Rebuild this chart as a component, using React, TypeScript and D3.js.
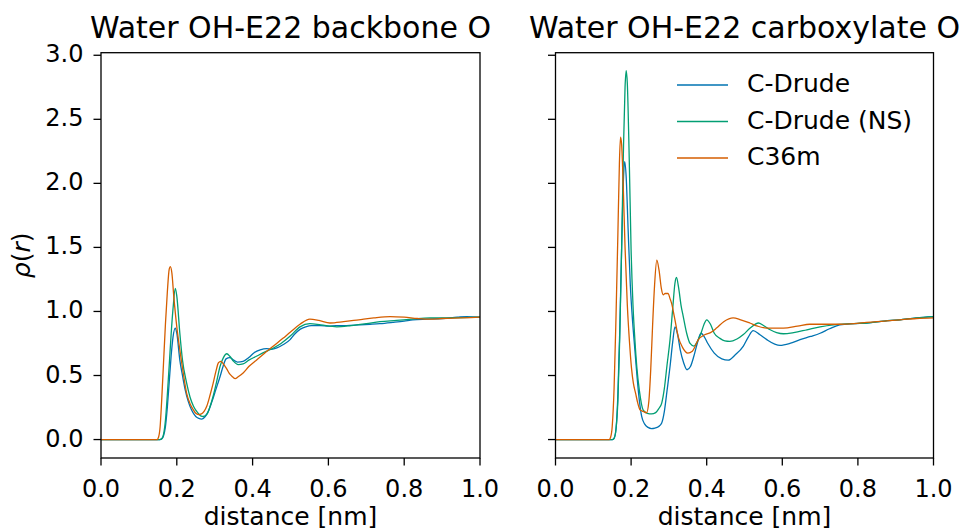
import React from "react";
import * as d3 from "d3";

type Pt = [number, number];

const seriesNames = ["C-Drude", "C-Drude (NS)", "C36m"];
const seriesColors = ["#0173b2", "#029e73", "#d55e00"];
const panelTitles = ["Water OH-E22 backbone O", "Water OH-E22 carboxylate O"];
const xTicks = [0, 0.2, 0.4, 0.6, 0.8, 1.0];
const yTicks = [0, 0.5, 1.0, 1.5, 2.0, 2.5, 3.0];

const backboneCDrude: Pt[] = [[0,0],[0.155,0],[0.16,0.005],[0.165,0.03],[0.17,0.1],[0.175,0.25],[0.18,0.45],[0.185,0.65],[0.19,0.8],[0.196,0.87],[0.2,0.83],[0.208,0.62],[0.215,0.5],[0.222,0.39],[0.23,0.3],[0.239,0.23],[0.25,0.18],[0.258,0.165],[0.266,0.16],[0.275,0.18],[0.283,0.22],[0.292,0.29],[0.303,0.39],[0.314,0.49],[0.322,0.57],[0.33,0.63],[0.34,0.64],[0.35,0.62],[0.36,0.605],[0.375,0.61],[0.39,0.64],[0.405,0.68],[0.42,0.70],[0.437,0.71],[0.45,0.705],[0.464,0.715],[0.48,0.74],[0.499,0.78],[0.51,0.82],[0.525,0.86],[0.54,0.88],[0.555,0.89],[0.58,0.89],[0.6,0.885],[0.62,0.89],[0.648,0.89],[0.68,0.895],[0.71,0.9],[0.736,0.905],[0.77,0.915],[0.8,0.925],[0.823,0.935],[0.86,0.94],[0.9,0.945],[0.94,0.955],[0.965,0.96],[1.0,0.955]];
const backboneCDrudeNS: Pt[] = [[0,0],[0.155,0],[0.16,0.005],[0.165,0.04],[0.17,0.15],[0.175,0.35],[0.18,0.58],[0.185,0.82],[0.19,1.02],[0.196,1.18],[0.2,1.12],[0.208,0.83],[0.215,0.62],[0.226,0.44],[0.235,0.33],[0.244,0.26],[0.255,0.21],[0.263,0.185],[0.27,0.18],[0.28,0.2],[0.288,0.26],[0.296,0.34],[0.305,0.45],[0.314,0.57],[0.323,0.64],[0.332,0.67],[0.34,0.65],[0.35,0.61],[0.362,0.585],[0.375,0.59],[0.39,0.62],[0.41,0.65],[0.43,0.68],[0.455,0.715],[0.475,0.75],[0.5,0.81],[0.525,0.88],[0.551,0.905],[0.58,0.895],[0.622,0.88],[0.66,0.89],[0.7,0.905],[0.736,0.92],[0.78,0.93],[0.82,0.94],[0.868,0.95],[0.92,0.95],[1.0,0.955]];
const backboneC36m: Pt[] = [[0,0],[0.148,0],[0.152,0.02],[0.156,0.1],[0.16,0.3],[0.165,0.6],[0.17,0.9],[0.175,1.15],[0.18,1.33],[0.183,1.35],[0.187,1.3],[0.192,1.12],[0.2,0.88],[0.208,0.70],[0.217,0.52],[0.226,0.36],[0.235,0.28],[0.244,0.23],[0.25,0.205],[0.257,0.195],[0.265,0.2],[0.272,0.22],[0.279,0.26],[0.288,0.35],[0.296,0.44],[0.303,0.53],[0.31,0.6],[0.316,0.61],[0.323,0.59],[0.332,0.55],[0.34,0.51],[0.347,0.49],[0.354,0.475],[0.362,0.49],[0.375,0.52],[0.39,0.57],[0.41,0.62],[0.43,0.67],[0.455,0.73],[0.48,0.79],[0.5,0.84],[0.525,0.90],[0.551,0.94],[0.575,0.93],[0.604,0.91],[0.64,0.92],[0.68,0.935],[0.72,0.95],[0.763,0.96],[0.8,0.955],[0.835,0.945],[0.868,0.94],[0.9,0.945],[0.95,0.95],[1.0,0.955]];

const carboxCDrude: Pt[] = [[0,0],[0.15,0],[0.155,0.01],[0.16,0.08],[0.165,0.35],[0.17,0.85],[0.175,1.5],[0.18,2.05],[0.183,2.17],[0.187,2.05],[0.192,1.65],[0.198,1.2],[0.204,0.92],[0.21,0.7],[0.216,0.48],[0.222,0.3],[0.228,0.18],[0.236,0.12],[0.245,0.095],[0.254,0.086],[0.263,0.09],[0.272,0.1],[0.281,0.13],[0.288,0.22],[0.295,0.38],[0.303,0.57],[0.31,0.76],[0.316,0.88],[0.323,0.82],[0.33,0.70],[0.339,0.6],[0.348,0.545],[0.357,0.57],[0.366,0.65],[0.375,0.75],[0.385,0.83],[0.394,0.8],[0.403,0.75],[0.42,0.675],[0.44,0.63],[0.457,0.62],[0.475,0.66],[0.497,0.73],[0.51,0.80],[0.523,0.85],[0.54,0.82],[0.559,0.78],[0.58,0.745],[0.594,0.735],[0.62,0.75],[0.647,0.78],[0.675,0.805],[0.70,0.83],[0.725,0.865],[0.752,0.896],[0.79,0.905],[0.823,0.91],[0.87,0.925],[0.911,0.935],[0.955,0.95],[1.0,0.96]];
const carboxCDrudeNS: Pt[] = [[0,0],[0.15,0],[0.155,0.01],[0.16,0.08],[0.165,0.3],[0.17,0.8],[0.175,1.5],[0.18,2.3],[0.184,2.75],[0.187,2.88],[0.19,2.78],[0.195,2.2],[0.2,1.48],[0.205,1.05],[0.21,0.78],[0.215,0.57],[0.222,0.38],[0.232,0.23],[0.243,0.205],[0.254,0.20],[0.265,0.21],[0.273,0.24],[0.281,0.285],[0.288,0.4],[0.295,0.58],[0.303,0.78],[0.31,1.02],[0.316,1.22],[0.32,1.265],[0.326,1.18],[0.332,1.05],[0.338,0.96],[0.347,0.83],[0.356,0.75],[0.366,0.73],[0.376,0.77],[0.385,0.83],[0.393,0.9],[0.40,0.935],[0.41,0.9],[0.42,0.83],[0.435,0.79],[0.448,0.77],[0.461,0.766],[0.48,0.785],[0.497,0.82],[0.515,0.87],[0.537,0.91],[0.55,0.89],[0.568,0.857],[0.585,0.835],[0.603,0.826],[0.63,0.835],[0.665,0.857],[0.7,0.88],[0.735,0.896],[0.78,0.905],[0.823,0.91],[0.87,0.925],[0.91,0.935],[0.955,0.95],[1.0,0.96]];
const carboxC36m: Pt[] = [[0,0],[0.142,0],[0.146,0.02],[0.15,0.1],[0.155,0.4],[0.16,0.95],[0.165,1.6],[0.169,2.15],[0.172,2.36],[0.175,2.3],[0.179,2.0],[0.184,1.5],[0.19,1.05],[0.196,0.75],[0.201,0.56],[0.206,0.44],[0.212,0.36],[0.218,0.28],[0.224,0.23],[0.232,0.22],[0.241,0.21],[0.247,0.3],[0.252,0.55],[0.257,0.9],[0.262,1.2],[0.268,1.40],[0.274,1.32],[0.28,1.18],[0.285,1.13],[0.29,1.14],[0.298,1.14],[0.303,1.1],[0.307,1.065],[0.315,0.95],[0.325,0.80],[0.336,0.72],[0.35,0.675],[0.362,0.69],[0.378,0.78],[0.396,0.82],[0.41,0.835],[0.426,0.87],[0.445,0.92],[0.47,0.95],[0.49,0.935],[0.514,0.91],[0.535,0.885],[0.559,0.87],[0.603,0.87],[0.64,0.885],[0.673,0.90],[0.71,0.9],[0.752,0.90],[0.79,0.905],[0.823,0.915],[0.87,0.925],[0.911,0.935],[0.955,0.945],[1.0,0.95]];

const panelSeries: Pt[][][] = [
  [backboneCDrude, backboneCDrudeNS, backboneC36m],
  [carboxCDrude, carboxCDrudeNS, carboxC36m],
];

const FONT = "'DejaVu Sans', sans-serif";

export default function App() {
  const W = 960, H = 531;
  const top = 52.7, bottom = 458;
  const panels = [
    { x0: 101, x1: 480 },
    { x0: 555.5, x1: 933.5 },
  ];
  const y = d3.scaleLinear().domain([-0.144, 3.02]).range([bottom, top]);
  const tickLen = 7.5;
  const tickFont = 24;
  const labelFont = 25;

  return (
    <svg width={W} height={H} style={{ position: "absolute", left: 0, top: 0, background: "#fff" }} fontFamily={FONT}>
      <rect x={0} y={0} width={W} height={H} fill="#fff" />
      {panels.map((p, pi) => {
        const x = d3.scaleLinear().domain([0, 1]).range([p.x0, p.x1]);
        const line = d3
          .line<Pt>()
          .x((d) => x(d[0]))
          .y((d) => y(d[1]))
          .curve(d3.curveMonotoneX);
        const cx = (p.x0 + p.x1) / 2;
        return (
          <g key={pi}>
            <defs>
              <clipPath id={`clip${pi}`}>
                <rect x={p.x0} y={top} width={p.x1 - p.x0} height={bottom - top} />
              </clipPath>
            </defs>
            <g clipPath={`url(#clip${pi})`}>
              {panelSeries[pi].map((s, si) => (
                <path key={si} d={line(s) || ""} fill="none" stroke={seriesColors[si]} strokeWidth={1.3} strokeLinejoin="round" />
              ))}
            </g>
            <rect x={p.x0} y={top} width={p.x1 - p.x0} height={bottom - top} fill="none" stroke="#000" strokeWidth={1.3} />
            {xTicks.map((t) => (
              <g key={t}>
                <line x1={x(t)} x2={x(t)} y1={bottom} y2={bottom + tickLen} stroke="#000" strokeWidth={1.3} />
                <text x={x(t)} y={bottom + 32} textAnchor="middle" dominantBaseline="middle" fontSize={tickFont} fill="#000">
                  {t.toFixed(1)}
                </text>
              </g>
            ))}
            {yTicks.map((t) => (
              <g key={t}>
                <line x1={p.x0 - tickLen} x2={p.x0} y1={y(t)} y2={y(t)} stroke="#000" strokeWidth={1.3} />
                {pi === 0 && (
                  <text x={p.x0 - tickLen - 10} y={y(t)} textAnchor="end" dominantBaseline="middle" fontSize={tickFont} fill="#000">
                    {t.toFixed(1)}
                  </text>
                )}
              </g>
            ))}
            <text x={cx} y={bottom + 67} textAnchor="middle" fontSize={labelFont} fill="#000">
              distance [nm]
            </text>
            <text x={cx} y={38} textAnchor="middle" fontSize={30} fill="#000">
              {panelTitles[pi]}
            </text>
          </g>
        );
      })}
      <text transform={`translate(30, ${(top + bottom) / 2}) rotate(-90)`} textAnchor="middle" fontSize={labelFont} fill="#000">
        <tspan fontStyle="italic">ρ</tspan>
        <tspan>(</tspan>
        <tspan fontStyle="italic">r</tspan>
        <tspan>)</tspan>
      </text>
      {seriesNames.map((n, i) => (
        <g key={n}>
          <line x1={677} x2={728} y1={85 + i * 36.5} y2={85 + i * 36.5} stroke={seriesColors[i]} strokeWidth={1.3} />
          <text x={747} y={85 + i * 36.5} dominantBaseline="middle" fontSize={25} fill="#000">
            {n}
          </text>
        </g>
      ))}
    </svg>
  );
}
